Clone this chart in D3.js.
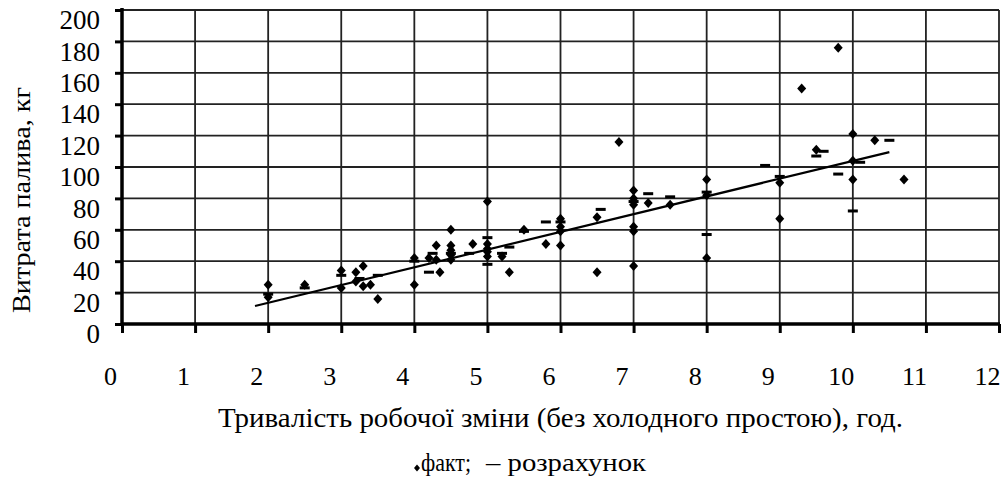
<!DOCTYPE html>
<html>
<head>
<meta charset="utf-8">
<script src="https://cdn.jsdelivr.net/npm/d3@7"></script>
<style>
  body { margin: 0; background: #fff; }
</style>
</head>
<body>
<div id="chart"></div>
<script>
// fact points (diamonds)
const factX = [2, 2, 2.5, 3, 3, 3.2, 3.3, 3.2, 3.3, 3.4, 3.5, 4, 4, 4.2, 4.3, 4.35, 4.3,
  4.5, 4.5, 4.5, 4.5, 4.5, 4.8, 5, 5, 5, 5, 5, 5.2, 5.3, 5.5, 5.8, 6, 6, 6, 6,
  6.5, 6.5, 6.8, 7, 7, 7, 7, 7, 7, 7.2, 7.5, 8, 8, 8, 9, 9, 9.3, 9.5, 9.8,
  10, 10, 10, 10.3, 10.7];
const factY = [25, 17, 25, 34, 23, 33, 37, 27, 24, 25, 16, 42, 25, 42, 50, 33, 41,
  60, 50, 47, 44, 41, 51, 78, 51, 48, 46, 43, 43, 33, 60, 51, 67, 62, 59, 50,
  68, 33, 116, 85, 80, 76, 62, 59, 37, 77, 76, 92, 82, 42, 90, 67, 150, 111, 176,
  121, 104, 92, 117, 92];

// calculated values (dashes)
const calcX = [2, 2.5, 3, 3.25, 3.5, 4, 4.25, 4.2, 4.5, 4.75, 5, 5, 5.2, 5.3, 5.5, 5.8,
  6, 6.55, 7, 7.2, 7.5, 8, 8, 8.8, 9, 9.6, 9.5, 9.8, 10.1, 10, 10.5];
const calcY = [19, 23, 31, 29, 31, 40, 45, 33, 45, 45, 55, 38, 45, 49, 59, 65,
  65, 73, 78, 83, 81, 57, 84, 101, 94, 110, 107, 95.5, 103, 72, 117];

// trend line end points
const trendX = [1.82, 10.5];
const trendY = [11.5, 109.5];

const xTicks = d3.range(0, 13, 1);
const yTicks = d3.range(0, 201, 20);

const W = 1003, H = 479;
const margin = { top: 10, right: 4, bottom: 155, left: 122 };
const width = W - margin.left - margin.right,
  height = H - margin.top - margin.bottom;
const serif = 'Liberation Serif';

const svg = d3.select('#chart').append('svg')
  .attr('width', W).attr('height', H)
  .attr('font-family', serif);

const g = svg.append('g')
  .attr('transform', 'translate(' + margin.left + ',' + margin.top + ')');

const x = d3.scaleLinear().domain([0, 12]).range([0, width]);
const y = d3.scaleLinear().domain([0, 200]).range([height, 0]);

// grid
g.selectAll('.vgrid').data(xTicks.slice(1)).enter().append('line')
  .attr('x1', d => x(d)).attr('x2', d => x(d))
  .attr('y1', 0).attr('y2', height)
  .attr('stroke', '#222').attr('stroke-width', 1.8);
g.selectAll('.hgrid').data(yTicks.slice(1)).enter().append('line')
  .attr('x1', 0).attr('x2', width)
  .attr('y1', d => y(d)).attr('y2', d => y(d))
  .attr('stroke', '#222').attr('stroke-width', 1.8);

// axes
const yAxis = d3.axisLeft(y).tickValues(yTicks).tickSize(7).tickPadding(15);
const yg = g.append('g').call(yAxis)
  .attr('font-family', serif).attr('font-size', 27);
yg.select('.domain').remove();
yg.selectAll('line').attr('stroke', '#000').attr('stroke-width', 3);
yg.selectAll('text').attr('y', 10).attr('fill', '#000');

const xAxis = d3.axisBottom(x).tickValues(xTicks).tickSize(9);
const xg = g.append('g').attr('transform', 'translate(0,' + height + ')').call(xAxis)
  .attr('font-family', serif).attr('font-size', 26);
xg.select('.domain').remove();
xg.selectAll('line').attr('stroke', '#000').attr('stroke-width', 3);
xg.selectAll('text').attr('y', 43).attr('x', -12).attr('fill', '#000');

g.append('line').attr('x1', 0).attr('x2', 0).attr('y1', -2).attr('y2', height + 1.5)
  .attr('stroke', '#000').attr('stroke-width', 3.5);
g.append('line').attr('x1', 0).attr('x2', width + 1).attr('y1', height).attr('y2', height)
  .attr('stroke', '#000').attr('stroke-width', 3.5);

// trend line
const line = d3.line().x(d => x(d[0])).y(d => y(d[1]));
g.append('path').datum(d3.zip(trendX, trendY))
  .attr('d', line).attr('fill', 'none')
  .attr('stroke', '#000').attr('stroke-width', 2.2);

// calc dashes
g.selectAll('.calc').data(d3.zip(calcX, calcY)).enter().append('rect')
  .attr('x', d => x(d[0]) - 5).attr('y', d => y(d[1]) - 1.5)
  .attr('width', 10).attr('height', 3).attr('fill', '#000');

// fact diamonds
const diamond = 'M0,-5L4.5,0L0,5L-4.5,0Z';
g.selectAll('.fact').data(d3.zip(factX, factY)).enter().append('path')
  .attr('d', diamond)
  .attr('transform', d => 'translate(' + x(d[0]) + ',' + y(d[1]) + ')')
  .attr('fill', '#000');

// titles
svg.append('text')
  .attr('transform', 'translate(30,200) rotate(-90)')
  .attr('text-anchor', 'middle')
  .attr('textLength', 226).attr('lengthAdjust', 'spacingAndGlyphs')
  .attr('font-size', 26)
  .text('Витрата палива, кг');

svg.append('text')
  .attr('x', 218).attr('y', 427)
  .attr('textLength', 685).attr('lengthAdjust', 'spacingAndGlyphs')
  .attr('font-size', 27)
  .text('Тривалість робочої зміни (без холодного простою), год.');

// legend
svg.append('path').attr('d', 'M0,-3.5L3,0L0,3.5L-3,0Z')
  .attr('transform', 'translate(417,468)').attr('fill', '#000');
svg.append('text')
  .attr('x', 421).attr('y', 471)
  .attr('textLength', 50).attr('lengthAdjust', 'spacingAndGlyphs')
  .attr('font-size', 26)
  .text('факт;');
svg.append('text')
  .attr('x', 486).attr('y', 471)
  .attr('textLength', 160).attr('lengthAdjust', 'spacingAndGlyphs')
  .attr('font-size', 26)
  .text('– розрахунок');
</script>
</body>
</html>
